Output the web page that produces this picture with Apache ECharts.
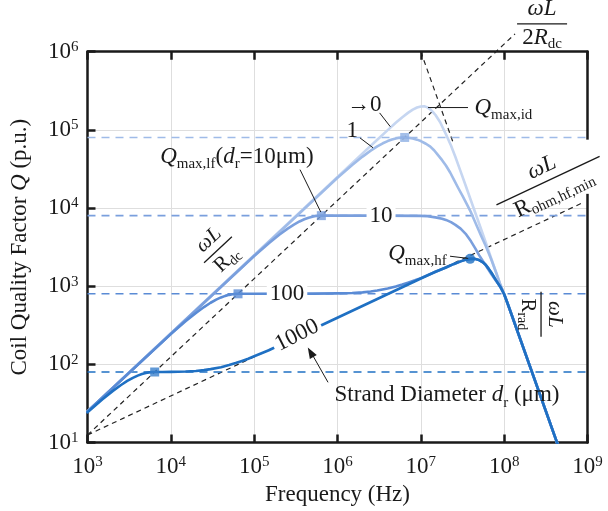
<!DOCTYPE html>
<html>
<head>
<meta charset="utf-8">
<script src="https://cdn.jsdelivr.net/npm/echarts/dist/echarts.min.js"></script>
<style>
  html, body { margin: 0; padding: 0; background: #fff; }
  #main { width: 608px; height: 511px; }
</style>
</head>
<body>
<div id="main"></div>
<script>
// ---- values: [frequency Hz, Q] ----
// radiation-limited tail shared by every strand diameter
const highFreqTail = [[1.1e8, 601], [5e8, 6.4]];

const qIdeal = [[1e3, 25], [1e6, 25000], [1.5e6, 37500], [2e6, 50000], [3e6, 74850],
  [4e6, 99400], [5e6, 123100], [6e6, 145300], [7e6, 165100], [8e6, 181400], [9e6, 193300],
  [1e7, 199500], [1.1e7, 200000], [1.2e7, 194000], [1.3e7, 183000], [1.4e7, 169000],
  [1.5e7, 155000], [1.7e7, 126000], [2e7, 88000], [2.3e7, 63000], [2.6e7, 45000],
  [3e7, 29500], [3.5e7, 18600], [4e7, 12400], [4.5e7, 8700], [5e7, 6350], [6e7, 3650],
  [7e7, 2270], [8e7, 1500], [9e7, 1050], [1e8, 790]];

const q1um = [[1e3, 25], [1e6, 24400], [1.5e6, 35550], [2e6, 45550], [2.5e6, 54230],
  [3e6, 61490], [3.5e6, 67360], [4e6, 71910], [4.5e6, 75280], [5e6, 77620], [5.5e6, 79090],
  [6e6, 79830], [6.4e6, 80000], [7e6, 79500], [8e6, 77500], [9e6, 75000], [1e7, 72000],
  [1.15e7, 66500], [1.3e7, 61000], [1.45e7, 54500], [1.6e7, 48000], [1.8e7, 41000],
  [2e7, 35000], [2.25e7, 28500], [2.5e7, 23000], [2.8e7, 18200], [3.2e7, 14000],
  [3.6e7, 11000], [4e7, 8800], [4.7e7, 5900], [5.3e7, 4400], [6e7, 3300], [7e7, 2200],
  [8e7, 1500], [9e7, 1050], [1e8, 790]];

const q10um = [[1e3, 25], [1e5, 2440], [1.5e5, 3555], [2e5, 4555], [2.5e5, 5423],
  [3e5, 6149], [3.5e5, 6736], [4e5, 7191], [4.5e5, 7528], [5e5, 7762], [5.5e5, 7909],
  [6e5, 7983], [6.4e5, 8000], [3e6, 8000], [1e7, 7950], [1.2e7, 7850], [1.5e7, 7600],
  [1.8e7, 7300], [2e7, 7050], [2.3e7, 6600], [2.6e7, 6100], [3e7, 5450], [3.5e7, 4600],
  [4e7, 3750], [4.5e7, 3050], [5e7, 2500], [5.5e7, 2130], [6e7, 1850], [7e7, 1430],
  [8e7, 1170], [9e7, 990], [1e8, 790]];

const q100um = [[1e3, 25], [1e4, 244], [1.5e4, 355.5], [2e4, 455.5], [2.5e4, 542],
  [3e4, 615], [3.5e4, 673.6], [4e4, 719], [4.5e4, 753], [5e4, 776], [5.5e4, 791],
  [6e4, 798], [6.4e4, 800], [1e5, 801], [5e5, 804], [1e6, 810], [1.5e6, 820], [2e6, 835],
  [2.5e6, 855], [3e6, 880], [4e6, 935], [5e6, 990], [6e6, 1050], [7e6, 1110], [8.5e6, 1190],
  [1e7, 1270], [1.5e7, 1530], [2e7, 1740], [2.5e7, 1930], [3e7, 2080], [3.5e7, 2190],
  [3.9e7, 2240], [4.4e7, 2240], [5e7, 2160], [5.5e7, 2040], [6e7, 1880], [6.5e7, 1680],
  [7e7, 1500], [8e7, 1190], [9e7, 980], [1e8, 790]];

const q1000um = [[1e3, 24.4], [1.25e3, 30.1], [1.5e3, 35.55], [2e3, 45.55], [2.5e3, 54.2],
  [3e3, 61.5], [3.5e3, 67.4], [4e3, 71.9], [4.5e3, 75.3], [5e3, 77.6], [5.5e3, 79.1],
  [6e3, 79.8], [6.4e3, 80], [8e3, 80.1], [1e4, 80.3], [1.5e4, 81], [2e4, 82.5], [2.5e4, 84.5],
  [3e4, 87], [4e4, 92], [5e4, 98], [6e4, 104], [7e4, 110], [8.5e4, 118], [1e5, 127],
  [1.5e5, 152], [2e5, 176], [3e5, 216], [5e5, 280], [1e7, 1255], [1.5e7, 1530], [2e7, 1740],
  [2.5e7, 1930], [3e7, 2080], [3.5e7, 2190], [3.9e7, 2240], [4.4e7, 2240], [5e7, 2160],
  [5.5e7, 2040], [6e7, 1880], [6.5e7, 1680], [7e7, 1500], [8e7, 1190], [9e7, 980], [1e8, 790]];

const qMaxLf = [8e4, 8e3, 800, 80];                  // d_r = 1, 10, 100, 1000 um
const lfMarkers = [[6.4e6, 8e4], [6.4e5, 8e3], [6.4e4, 800], [6.4e3, 80]];
const hfMarker = [[3.9e7, 2240]];

const asymDc2 = [[1e3, 12.5], [1.35e8, 1.69e6]];     // wL / 2Rdc
const asymHf = [[1e3, 12.5], [9e8, 11860]];          // wL / Rohm,hf,min
const asymRad = [[1e7, 1e6], [2.5e7, 6.4e4]];        // wL / Rrad

const FONT = 'Liberation Serif';
const INK = '#1a1a1a';
const colIdeal = '#c6d6f1', col1 = '#9fbbe8', col10 = '#7a9fdd', col100 = '#5a8bd5', col1000 = '#1f70c3';
const lfColors = [col1, col10, col100, col1000];

const chart = echarts.init(document.getElementById('main'));

const tickRich = {
  b: { fontFamily: FONT, fontSize: 23, color: INK, lineHeight: 24 },
  s: { fontFamily: FONT, fontSize: 15, color: INK, lineHeight: 18, verticalAlign: 'top' }
};
const pow10 = v => '{b|10}{s|' + Math.round(Math.log10(v)) + '}';

const txtRich = {
  r: { fontFamily: FONT, fontSize: 23, color: INK, lineHeight: 30 },
  i: { fontFamily: FONT, fontSize: 23, color: INK, fontStyle: 'italic', lineHeight: 30 },
  sub: { fontFamily: FONT, fontSize: 15, color: INK, lineHeight: 12, verticalAlign: 'bottom' }
};

function curve(data, color) {
  return {
    type: 'line', data: data, showSymbol: false, smooth: false,
    silent: true, z: 3, lineStyle: { color: color, width: 2.6, cap: 'round', join: 'round' }
  };
}
function dashed(data, color, width, dash, clip) {
  return {
    type: 'line', data: data, showSymbol: false, silent: true, clip: clip, z: 2,
    lineStyle: { color: color, width: width, type: dash }
  };
}

const series = [
  dashed(asymDc2, '#222', 1.2, [5, 4], false),
  dashed(asymHf, '#222', 1.2, [5, 4], true),
  dashed(asymRad, '#222', 1.2, [5, 4], true)
];
qMaxLf.forEach((q, k) => series.push(dashed([[1e3, q], [1e9, q]], lfColors[k], 1.6, [8, 6], true)));
series.push(curve(qIdeal.concat(highFreqTail), colIdeal));
series.push(curve(q1um.concat(highFreqTail), col1));
series.push(curve(q10um.concat(highFreqTail), col10));
series.push(curve(q100um.concat(highFreqTail), col100));
series.push(curve(q1000um.concat(highFreqTail), col1000));
series.push({
  type: 'scatter', symbol: 'rect', symbolSize: 9, silent: true, z: 4,
  data: lfMarkers.map((p, k) => ({ value: p, itemStyle: { color: ['#8dafe4', '#779edc', '#5a8cd6', '#3a80cc'][k] } }))
});
series.push({
  type: 'scatter', symbol: 'circle', symbolSize: 10, silent: true, z: 4,
  data: hfMarker, itemStyle: { color: col1000 }
});

const axisCommon = {
  type: 'log', logBase: 10,
  axisLine: { lineStyle: { color: INK, width: 2.5 } },
  axisTick: { inside: true, length: 8, lineStyle: { color: INK, width: 2.5 } },
  minorTick: { show: false }
};

chart.setOption({
  animation: false,
  backgroundColor: '#fff',
  grid: { left: 87.5, right: 20.5, top: 51.7, bottom: 67.7 },
  xAxis: [
    Object.assign({}, axisCommon, {
      min: 1e3, max: 1e9, position: 'bottom',
      name: 'Frequency (Hz)', nameLocation: 'middle', nameGap: 37,
      nameTextStyle: { fontFamily: FONT, fontSize: 23, color: INK },
      axisLabel: { formatter: pow10, rich: tickRich, margin: 12 },
      splitLine: { show: true, lineStyle: { color: '#dedede', width: 1 } }
    }),
    Object.assign({}, axisCommon, {
      min: 1e3, max: 1e9, position: 'top',
      axisLabel: { show: false }, splitLine: { show: false }
    })
  ],
  yAxis: [
    Object.assign({}, axisCommon, {
      min: 10, max: 1e6, position: 'left',
      name: '{r|Coil Quality Factor }{i|Q}{r| (p.u.)}', nameLocation: 'middle', nameGap: 53,
      nameTextStyle: { rich: txtRich },
      axisLabel: { formatter: pow10, rich: tickRich, margin: 9 },
      splitLine: { show: true, lineStyle: { color: '#dedede', width: 1 } }
    }),
    Object.assign({}, axisCommon, {
      min: 10, max: 1e6, position: 'right',
      axisTick: { show: false }, axisLabel: { show: false }, splitLine: { show: false }
    })
  ],
  series: series
});

// ---- annotations, anchored in data space ----
const P = (f, q) => chart.convertToPixel({ xAxisIndex: 0, yAxisIndex: 0 }, [f, q]);

function label(f, q, text, opt) {
  opt = opt || {};
  const p = P(f, q);
  return {
    type: 'text', x: p[0], y: p[1], rotation: opt.rot || 0, z: 100, z2: 10,
    style: {
      text: text, rich: txtRich, fill: INK, fontFamily: FONT, fontSize: 23,
      align: opt.align || 'center', textAlign: opt.align || 'center',
      verticalAlign: 'middle', textVerticalAlign: 'middle',
      backgroundColor: opt.bg, padding: opt.bg ? [0, 3, 0, 3] : 0
    }
  };
}
function leader(a, b, width) {
  const p = P(a[0], a[1]), q = P(b[0], b[1]);
  return {
    type: 'line', z: 100, z2: 5, silent: true,
    shape: { x1: p[0], y1: p[1], x2: q[0], y2: q[1] },
    style: { stroke: INK, lineWidth: width || 1 }
  };
}
function arrowHead(a, b) {
  const p = P(a[0], a[1]), q = P(b[0], b[1]);
  const ang = Math.atan2(q[1] - p[1], q[0] - p[0]);
  const L = 11, W = 4;
  const bx = q[0] - L * Math.cos(ang), by = q[1] - L * Math.sin(ang);
  return {
    type: 'polygon', z: 100, z2: 6, silent: true,
    shape: { points: [[q[0], q[1]],
      [bx + W * Math.sin(ang), by - W * Math.cos(ang)],
      [bx - W * Math.sin(ang), by + W * Math.cos(ang)]] },
    style: { fill: INK }
  };
}
function frac(f, q, rot, num, den, barW, fs) {
  const p = P(f, q);
  const rich = {
    r: { fontFamily: FONT, fontSize: fs, color: INK, lineHeight: fs + 4 },
    i: { fontFamily: FONT, fontSize: fs, color: INK, fontStyle: 'italic', lineHeight: fs + 4 },
    sub: { fontFamily: FONT, fontSize: Math.round(fs * 0.65), color: INK, lineHeight: 10, verticalAlign: 'bottom' }
  };
  const t = (txt, y, va) => ({
    type: 'text', z: 100, z2: 10,
    style: { text: txt, rich: rich, x: 0, y: y, fill: INK, fontFamily: FONT, fontSize: fs,
      align: 'center', textAlign: 'center', verticalAlign: va, textVerticalAlign: va }
  });
  return {
    type: 'group', x: p[0], y: p[1], rotation: rot, z: 100,
    children: [
      t(num, -1, 'bottom'),
      { type: 'line', z: 100, z2: 10, shape: { x1: -barW / 2, y1: 0, x2: barW / 2, y2: 0 },
        style: { stroke: INK, lineWidth: 1.3 } },
      t(den, 1, 'top')
    ]
  };
}

const xr = P(1e9, 1e4)[0];
const gapTop = P(1e9, 7.5e4)[1], gapBot = P(1e9, 1.52e4)[1];

chart.setOption({
  graphic: [
    { type: 'rect', z: 100, z2: 0, silent: true,
      shape: { x: xr - 4, y: gapTop, width: 8, height: gapBot - gapTop }, style: { fill: '#fff' } },

    label(2.1e6, 2.1e5, '{r|→0}'),
    leader([3.2e6, 1.65e5], [4.3e6, 1.1e5]),
    label(1.5e6, 9.8e4, '{r|1}'),
    leader([1.86e6, 7.9e4], [2.67e6, 5.9e4]),

    leader([1.22e7, 1.93e5], [3.68e7, 1.93e5]),
    label(4.4e7, 1.93e5, '{i|Q}{sub|max,id}', { align: 'left' }),

    label(6.2e4, 4.5e4, '{i|Q}{sub|max,lf}{r|(}{i|d}{sub|r}{r|=10μm)}'),
    leader([3.55e5, 3.1e4], [6.3e5, 8.9e3]),

    label(3.33e6, 8000, '{r|10}', { bg: '#fff' }),
    label(2.48e5, 800, '{r|100}', { bg: '#fff' }),
    label(3.27e5, 235, '{r|1000}', { bg: '#fff', rot: 0.47 }),

    label(2.05e7, 2620, '{i|Q}{sub|max,hf}', { align: 'right' }),
    leader([2.24e7, 2420], [3.7e7, 2270]),

    label(2.06e7, 40.3, '{r|Strand Diameter }{i|d}{sub|r}{r| (μm)}'),
    leader([7.7e5, 59], [4.6e5, 155]),
    arrowHead([7.7e5, 59], [4.4e5, 165]),

    frac(2.85e8, 2.27e6, 0, '{i|ωL}', '{r|2}{i|R}{sub|dc}', 50, 23),
    frac(3.68e4, 2930, 0.75, '{i|ωL}', '{r|R}{sub|dc}', 38, 21),
    frac(3.36e8, 2.24e4, 0.44, '{i|ωL}', '{r|R}{sub|ohm,hf,min}', 114, 23),
    frac(2.77e8, 437, -Math.PI / 2, '{i|ωL}', '{r|R}{sub|rad}', 45, 21)
  ]
});
</script>
</body>
</html>
